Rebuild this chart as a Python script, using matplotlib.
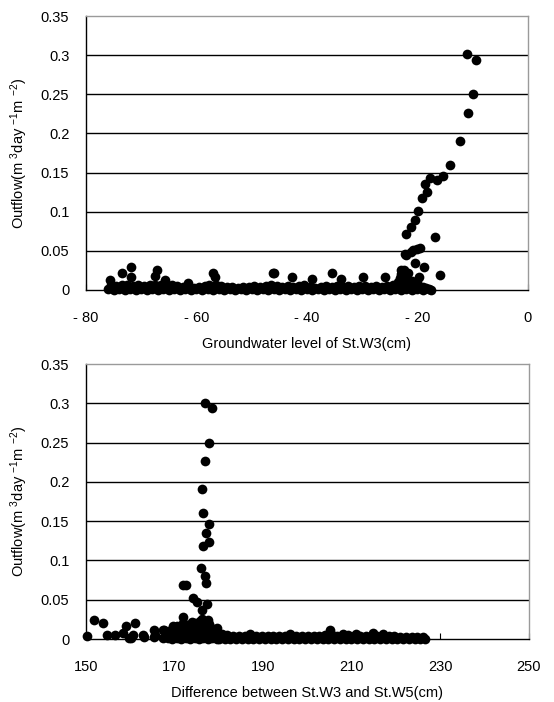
import matplotlib
matplotlib.use("Agg")
import matplotlib.pyplot as plt

plt.rcParams['font.family'] = ['Liberation Sans', 'DejaVu Sans']
plt.rcParams['mathtext.fontset'] = 'custom'
plt.rcParams['mathtext.rm'] = 'Liberation Sans'
plt.rcParams['mathtext.it'] = 'Liberation Sans:italic'

# ---- top panel: outflow vs groundwater level of St.W3 ----
# dense band of near-zero outflow (lower row)
gw_band_lo_x = [-76, -75, -74, -73, -72, -71, -70, -69, -68, -67, -66, -65, -64, -63, -62,
                -61, -60, -59, -58, -57, -56, -55, -54, -53, -52, -51, -50, -49, -48, -47,
                -46, -45, -44, -43, -42, -41, -40, -39, -38, -37, -36, -35, -34, -33, -32,
                -31, -30, -29, -28, -27, -26, -25, -24, -23, -22, -21, -20, -19, -18, -17.5]
gw_band_lo_y = [0.001, 0.0, 0.001, 0.0, 0.001, 0.0, 0.001, 0.0, 0.001, 0.0, 0.001, 0.0, 0.001, 0.0, 0.001,
                0.0, 0.001, 0.0, 0.001, 0.0, 0.001, 0.0, 0.001, 0.0, 0.001, 0.0, 0.001, 0.0, 0.001, 0.0,
                0.001, 0.0, 0.001, 0.0, 0.001, 0.0, 0.001, 0.0, 0.001, 0.0, 0.001, 0.0, 0.001, 0.0, 0.001,
                0.0, 0.001, 0.0, 0.001, 0.0, 0.001, 0.0, 0.001, 0.0, 0.001, 0.0, 0.001, 0.0, 0.001, 0.0]
# upper row of the band
gw_band_hi_x = [-75.5, -74.5, -73.5, -72.5, -71.5, -70.5, -69.5, -68.5, -67.5, -66.5, -65.5, -64.5,
                -63.5, -62.5, -61.5, -60.5, -59.5, -58.5, -57.5, -56.5, -55.5, -54.5, -53.5, -52.5,
                -51.5, -50.5, -49.5, -48.5, -47.5, -46.5, -45.5, -44.5, -43.5, -42.5, -41.5, -40.5,
                -39.5, -38.5, -37.5, -36.5, -35.5, -34.5, -33.5, -32.5, -31.5, -30.5, -29.5, -28.5,
                -27.5, -26.5, -25.5, -24.5, -23.5, -22.5, -21.5, -20.5, -19.5, -18.5]
gw_band_hi_y = [0.006, 0.005, 0.006, 0.007, 0.005, 0.006, 0.005, 0.006, 0.006, 0.007, 0.008, 0.006,
                0.005, 0.004, 0.004, 0.003, 0.004, 0.005, 0.004, 0.006, 0.005, 0.004, 0.004, 0.003,
                0.004, 0.004, 0.005, 0.004, 0.005, 0.006, 0.005, 0.004, 0.005, 0.004, 0.005, 0.006,
                0.004, 0.003, 0.004, 0.005, 0.004, 0.005, 0.004, 0.005, 0.004, 0.005, 0.005, 0.004,
                0.005, 0.004, 0.005, 0.006, 0.008, 0.007, 0.006, 0.005, 0.004, 0.003]
# scattered points, cluster and rising limb
gw_pts_x = [-75.7, -73.4, -71.9, -71.9, -67.2, -67.5, -65.7, -61.5, -57.0, -56.7, -57.7, -46.1,
            -46.0, -42.7, -39.0, -35.4, -33.9, -29.9, -25.9, -23.1, -22.9,
            -23.5, -23.0, -22.5, -22.0, -21.5, -21.0, -20.5, -22.8, -21.8, -20.0, -19.0, -19.7,
            -22.0, -20.8, -19.5, -20.1, -21.1, -22.3, -20.5, -18.8, -16.0,
            -22.0, -21.1, -20.5, -19.9, -19.2, -18.2, -18.6, -17.7, -16.5, -15.3, -16.8,
            -14.1, -12.3, -10.9, -9.9, -11.1, -9.4]
gw_pts_y = [0.013, 0.022, 0.030, 0.016, 0.026, 0.018, 0.013, 0.009, 0.022, 0.016, 0.006, 0.022,
            0.022, 0.017, 0.014, 0.022, 0.014, 0.017, 0.017, 0.015, 0.026,
            0.010, 0.020, 0.025, 0.015, 0.008, 0.012, 0.006, 0.004, 0.022, 0.010, 0.004, 0.017,
            0.045, 0.051, 0.054, 0.052, 0.049, 0.046, 0.034, 0.030, 0.019,
            0.072, 0.081, 0.089, 0.101, 0.118, 0.125, 0.135, 0.143, 0.140, 0.146, 0.068,
            0.160, 0.190, 0.226, 0.251, 0.301, 0.294]

# ---- bottom panel: outflow vs difference St.W3 - St.W5 ----
dw_band_lo_x = [180, 181.3, 182.6, 183.9, 185.2, 186.5, 187.8, 189.1, 190.4, 191.7, 193, 194.3,
                195.6, 196.9, 198.2, 199.5, 200.8, 202.1, 203.4, 204.7, 206, 207.3, 208.6, 209.9,
                211.2, 212.5, 213.8, 215.1, 216.4, 217.7, 219, 220.3, 221.6, 222.9, 224.2, 225.5, 226.5]
dw_band_lo_y = [0.0, 0.0, 0.0, 0.0, 0.0, 0.0, 0.0, 0.0, 0.0, 0.0, 0.0, 0.0,
                0.0, 0.0, 0.0, 0.0, 0.0, 0.0, 0.0, 0.0, 0.0, 0.0, 0.0, 0.0,
                0.0, 0.0, 0.0, 0.0, 0.0, 0.0, 0.0, 0.0, 0.0, 0.0, 0.0, 0.0, 0.0]
dw_band_hi_x = [180.6, 181.9, 183.2, 184.5, 185.8, 187.1, 188.4, 189.7, 191, 192.3, 193.6, 194.9,
                196.2, 197.5, 198.8, 200.1, 201.4, 202.7, 204, 205.3, 206.6, 207.9, 209.2, 210.5,
                211.8, 213.1, 214.4, 215.7, 217, 218.3, 219.6, 220.9, 222.2, 223.5, 224.8, 226.0]
dw_band_hi_y = [0.006, 0.005, 0.004, 0.004, 0.004, 0.005, 0.004, 0.004, 0.004, 0.004, 0.004, 0.004,
                0.004, 0.004, 0.004, 0.004, 0.004, 0.004, 0.005, 0.006, 0.004, 0.004, 0.005, 0.004,
                0.004, 0.004, 0.004, 0.004, 0.004, 0.004, 0.004, 0.003, 0.003, 0.003, 0.003, 0.003]
dw_pts_x = [150.3, 151.7, 153.8, 154.8, 156.5, 158.4, 159.0, 159.8, 160.1, 160.7, 161.1, 162.9,
            163.2, 165.3, 165.4, 165.6, 167.3, 167.4, 167.7, 169.2, 169.7, 170.5,
            168.5, 169.5, 170.5, 171.5, 172.5, 173.5, 174.5, 175.5, 176.5, 177.5, 178.5, 179.5,
            169.0, 170.0, 171.0, 172.0, 173.0, 174.0, 175.0, 176.0, 177.0, 178.0, 179.0,
            170.5, 171.5, 172.5, 173.5, 174.5, 175.5, 176.5, 177.5, 178.5,
            171.0, 172.7, 174.0, 175.0, 176.0, 177.0, 178.0, 179.5,
            171.8, 172.0, 173.9, 174.5, 175.8, 176.1, 176.8, 177.6, 177.8,
            174.2, 175.0, 177.4, 172.0, 172.6, 176.2,
            176.0, 176.8, 177.2, 176.5, 177.8, 177.2, 177.8, 176.5,
            176.2, 176.8, 177.8, 176.8, 178.4,
            205.1, 214.8, 187.0, 196.0, 208.0, 211.0, 217.0]
dw_pts_y = [0.004, 0.024, 0.021, 0.005, 0.005, 0.008, 0.016, 0.001, 0.001, 0.005, 0.021, 0.005,
            0.003, 0.012, 0.003, 0.005, 0.012, 0.001, 0.011, 0.011, 0.016, 0.016,
            0.001, 0.0, 0.001, 0.0, 0.001, 0.0, 0.001, 0.0, 0.001, 0.0, 0.001, 0.0,
            0.006, 0.005, 0.006, 0.005, 0.006, 0.005, 0.006, 0.005, 0.006, 0.005, 0.004,
            0.010, 0.011, 0.010, 0.011, 0.010, 0.011, 0.012, 0.010, 0.009,
            0.015, 0.018, 0.015, 0.016, 0.017, 0.016, 0.015, 0.014,
            0.028, 0.021, 0.022, 0.020, 0.023, 0.026, 0.021, 0.024, 0.019,
            0.052, 0.047, 0.045, 0.069, 0.069, 0.037,
            0.090, 0.080, 0.071, 0.119, 0.124, 0.135, 0.146, 0.161,
            0.191, 0.226, 0.249, 0.301, 0.294,
            0.012, 0.008, 0.007, 0.007, 0.007, 0.007, 0.006]

ylab = r'Outflow(m $^{3}$day $^{-1}$m $^{-2}$)'
yticks = [0, 0.05, 0.1, 0.15, 0.2, 0.25, 0.3, 0.35]
ytick_labels = ['0', '0.05', '0.1', '0.15', '0.2', '0.25', '0.3', '0.35']

gw_ticks = [-80, -60, -40, -20, 0]
gw_tick_labels = ['- 80', '- 60', '- 40', '- 20', '0']
dw_ticks = [150, 170, 190, 210, 230, 250]
dw_tick_labels = ['150', '170', '190', '210', '230', '250']

fig = plt.figure(figsize=(5.54, 7.02), dpi=100)
ax1 = fig.add_axes([0.1552, 0.5869, 0.7978, 0.3903])
ax2 = fig.add_axes([0.1552, 0.0897, 0.7996, 0.3917])

ms = 7
def style(ax, xlim, ticks, labels, xlabel):
    ax.set_xlim(*xlim)
    ax.set_ylim(0, 0.35)
    ax.set_yticks(yticks)
    ax.set_yticklabels(ytick_labels)
    ax.set_xticks(ticks)
    ax.set_xticklabels(labels)
    for y in yticks[1:-1]:
        ax.axhline(y, color='black', lw=1.0, zorder=1)
    ax.spines['top'].set_color('#9a9a9a')
    ax.spines['right'].set_color('#9a9a9a')
    ax.spines['left'].set_color('black')
    ax.spines['bottom'].set_color('black')
    for s in ax.spines.values():
        s.set_linewidth(1.0)
    ax.tick_params(axis='y', length=0, pad=12, labelsize=10.5)
    ax.tick_params(axis='x', direction='in', length=4, pad=15, labelsize=10.5)
    ax.set_xlabel(xlabel, fontsize=10.5, labelpad=9)
    ax.set_ylabel(ylab, fontsize=10.5, labelpad=8)

style(ax1, (-80, 0), gw_ticks, gw_tick_labels, 'Groundwater level of St.W3(cm)')
for xs, ys in [(gw_band_lo_x, gw_band_lo_y), (gw_band_hi_x, gw_band_hi_y), (gw_pts_x, gw_pts_y)]:
    ax1.plot(xs, ys, 'o', color='black', ms=ms, mew=0, clip_on=False, zorder=3)

style(ax2, (150, 250), dw_ticks, dw_tick_labels, 'Difference between St.W3 and St.W5(cm)')
for xs, ys in [(dw_band_lo_x, dw_band_lo_y), (dw_band_hi_x, dw_band_hi_y), (dw_pts_x, dw_pts_y)]:
    ax2.plot(xs, ys, 'o', color='black', ms=ms, mew=0, clip_on=False, zorder=3)

fig.savefig('out.png', dpi=100)
